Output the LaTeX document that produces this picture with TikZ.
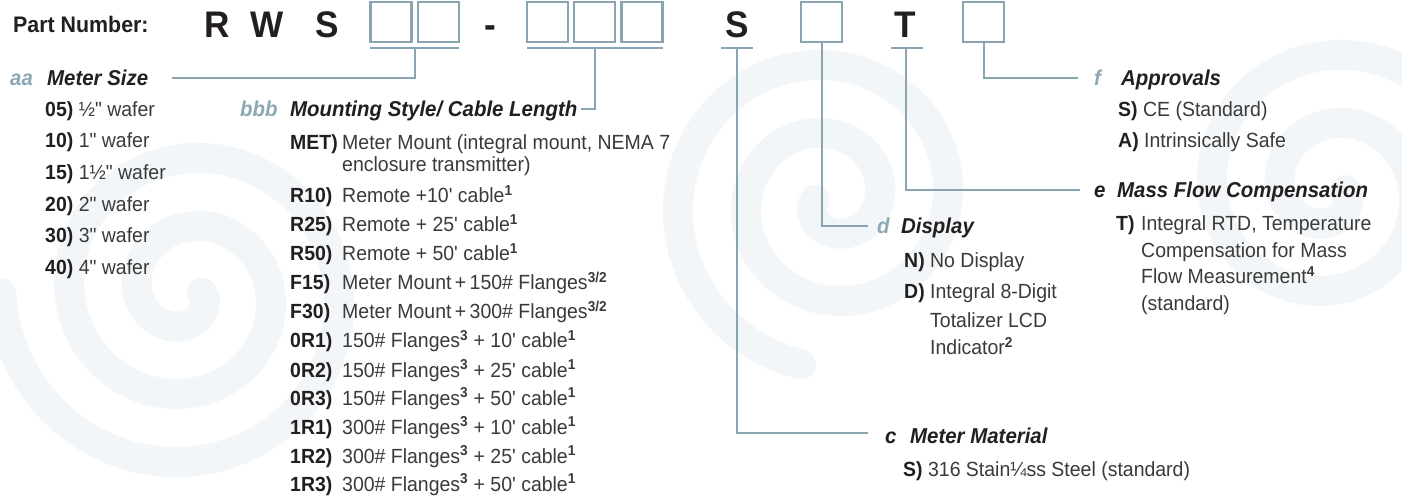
\documentclass[tikz,border=0pt]{standalone}
\usepackage{fontspec}
\setmainfont{Liberation Sans}[Ligatures=TeXOff, FakeStretch=0.95]
\definecolor{lineblue}{HTML}{8AA5B2}
\definecolor{codeblue}{HTML}{8DA8B5}
\definecolor{ink}{HTML}{231F20}
\definecolor{bodytext}{HTML}{3A3A3A}
\definecolor{swirlc}{HTML}{F3F6F8}
\newcommand{\cd}[1]{\textcolor{ink}{\bfseries #1}}
\newcommand{\supr}[1]{\textsuperscript{\bfseries #1}}
\tikzset{
  pbox/.style={draw=lineblue, line width=2.4pt, minimum width=41pt, minimum height=40pt, inner sep=0pt},
  bigletter/.style={font=\fontsize{37}{40}\selectfont\bfseries, text=ink, anchor=base, inner sep=0pt},
  conn/.style={draw=lineblue, line width=2pt},
  tag/.style={font=\fontsize{21.5}{26}\selectfont\bfseries\itshape, text=codeblue, anchor=base west, inner sep=0pt},
  tagdark/.style={tag, text=ink},
  head/.style={font=\fontsize{21.5}{26}\selectfont\bfseries\itshape, text=ink, anchor=base west, inner sep=0pt},
  item/.style={font=\fontsize{20.5}{24}\selectfont, text=bodytext, anchor=base west, inner sep=0pt},
  code/.style={font=\fontsize{20.5}{24}\selectfont\bfseries, text=ink, anchor=base west, inner sep=0pt},
  swirl/.style={draw=swirlc, line width=30pt, line cap=round},
}
\begin{document}
\begin{tikzpicture}[x=1pt, y=-1pt]
\fill[white] (0,0) rectangle (1402,502);
\useasboundingbox (0,0) rectangle (1402,502);
% faint background swirls
\begin{scope}
\clip (0,0) rectangle (1402,502);
\draw[swirl] plot[domain=0:900, samples=180, variable=\t] ({187+(15+0.19*\t)*cos(\t)}, {293+(15+0.19*\t)*sin(\t)});
\draw[swirl] plot[domain=0:800, samples=160, variable=\t] ({830-(15+0.19*\t)*cos(\t)}, {200+(15+0.19*\t)*sin(\t)});
\draw[swirl] plot[domain=0:720, samples=150, variable=\t] ({1330+(15+0.19*\t)*cos(\t)}, {190+(15+0.19*\t)*sin(\t)});
\end{scope}

% part number line
\node[font=\fontsize{22.5}{26}\selectfont\bfseries, text=ink, anchor=base west, inner sep=0pt] (pn) at (13,33) {Part Number:};
\node[bigletter] (lR) at (217,38) {R};
\node[bigletter] (lW) at (267,38) {W};
\node[bigletter] (lS) at (327,38) {S};
\node[pbox] (b1) at (391,22) {};
\node[pbox] (b2) at (438.5,22) {};
\node[bigletter] (dash) at (490,38) {-};
\node[pbox] (b3) at (547.5,22) {};
\node[pbox] (b4) at (594.5,22) {};
\node[pbox] (b5) at (642,22) {};
\node[bigletter] (lS2) at (737,38) {S};
\node[pbox] (b6) at (821.5,22) {};
\node[bigletter] (lT) at (905,38) {T};
\node[pbox] (b7) at (983.5,22) {};

% underlines
\coordinate (u1l) at (370,48); \coordinate (u1r) at (459,48); \coordinate (u1m) at (414.5,48);
\coordinate (u2l) at (527,48); \coordinate (u2r) at (663,48); \coordinate (u2m) at (595,48);
\coordinate (u3l) at (721,48); \coordinate (u3r) at (753,48); \coordinate (u3m) at (737,48);
\coordinate (u4l) at (891,48); \coordinate (u4r) at (923,48); \coordinate (u4m) at (906,48);
\draw[conn] (u1l) -- (u1r);
\draw[conn] (u2l) -- (u2r);
\draw[conn] (u3l) -- (u3r);
\draw[conn] (u4l) -- (u4r);

% connector ends
\coordinate (aaend) at (172,78);
\coordinate (bbbend) at (581,109);
\coordinate (cend) at (868,433);
\coordinate (dend) at (868,226);
\coordinate (eend) at (1080,190);
\coordinate (fend) at (1078,78);
\draw[conn] (u1m) |- (aaend);
\draw[conn] (u2m) |- (bbbend);
\draw[conn] (u3m) |- (cend);
\draw[conn] (b6.south) |- (dend);
\draw[conn] (u4m) |- (eend);
\draw[conn] (b7.south) |- (fend);

% aa Meter Size
\node[tag] (aa) at (10,86) {aa};
\node[head] (aah) at (47,86) {Meter Size};
\node[item] (a05) at (45,117) {\cd{05)} ½" wafer};
\node[item] (a10) at (45,148) {\cd{10)} 1" wafer};
\node[item] (a15) at (45,180) {\cd{15)} 1½" wafer};
\node[item] (a20) at (45,212) {\cd{20)} 2" wafer};
\node[item] (a30) at (45,243) {\cd{30)} 3" wafer};
\node[item] (a40) at (45,275) {\cd{40)} 4" wafer};

% bbb Mounting Style
\node[tag] (bbb) at (240,117) {bbb};
\node[head] (bbbh) at (290,117) {Mounting Style/ Cable Length};
\node[code] (cMET) at (290,150) {MET)};
\node[item] (vMET) at (342,150) {Meter Mount (integral mount, NEMA 7};
\node[item] (vMET2) at (342,172) {enclosure transmitter)};
\node[code] (cR10) at (290,203) {R10)};
\node[item] (vR10) at (342,203) {Remote +10' cable\supr{1}};
\node[code] (cR25) at (290,232) {R25)};
\node[item] (vR25) at (342,232) {Remote + 25' cable\supr{1}};
\node[code] (cR50) at (290,261) {R50)};
\node[item] (vR50) at (342,261) {Remote + 50' cable\supr{1}};
\node[code] (cF15) at (290,290) {F15)};
\node[item] (vF15) at (342,290) {Meter Mount\,+\,150\# Flanges\supr{3/2}};
\node[code] (cF30) at (290,319) {F30)};
\node[item] (vF30) at (342,319) {Meter Mount\,+\,300\# Flanges\supr{3/2}};
\node[code] (c0R1) at (290,348) {0R1)};
\node[item] (v0R1) at (342,348) {150\# Flanges\supr{3} + 10' cable\supr{1}};
\node[code] (c0R2) at (290,377) {0R2)};
\node[item] (v0R2) at (342,377) {150\# Flanges\supr{3} + 25' cable\supr{1}};
\node[code] (c0R3) at (290,405) {0R3)};
\node[item] (v0R3) at (342,405) {150\# Flanges\supr{3} + 50' cable\supr{1}};
\node[code] (c1R1) at (290,434) {1R1)};
\node[item] (v1R1) at (342,434) {300\# Flanges\supr{3} + 10' cable\supr{1}};
\node[code] (c1R2) at (290,463) {1R2)};
\node[item] (v1R2) at (342,463) {300\# Flanges\supr{3} + 25' cable\supr{1}};
\node[code] (c1R3) at (290,491) {1R3)};
\node[item] (v1R3) at (342,491) {300\# Flanges\supr{3} + 50' cable\supr{1}};

% f Approvals
\node[tag] (ff) at (1094,86) {f};
\node[head] (ffh) at (1121,86) {Approvals};
\node[item] (fS) at (1118,117) {\cd{S)} CE (Standard)};
\node[item] (fA) at (1118,148) {\cd{A)} Intrinsically Safe};

% e Mass Flow Compensation
\node[tagdark] (ee) at (1094,198) {e};
\node[head] (eeh) at (1117,198) {Mass Flow Compensation};
\node[code] (eT) at (1116,231) {T)};
\node[item] (eT1) at (1141,231) {Integral RTD, Temperature};
\node[item] (eT2) at (1141,258) {Compensation for Mass};
\node[item] (eT3) at (1141,284) {Flow Measurement\supr{4}};
\node[item] (eT4) at (1141,311) {(standard)};

% d Display
\node[tag] (dd) at (877,234) {d};
\node[head] (ddh) at (901,234) {Display};
\node[item] (dN) at (904,268) {\cd{N)} No Display};
\node[code] (dD) at (904,299) {D)};
\node[item] (dD1) at (930,299) {Integral 8-Digit};
\node[item] (dD2) at (930,328) {Totalizer LCD};
\node[item] (dD3) at (930,355) {Indicator\supr{2}};

% c Meter Material
\node[tagdark] (cc) at (885,443) {c};
\node[head] (cch) at (910,443) {Meter Material};
\node[item] (cS) at (903,476) {\cd{S)} 316 Stain¼ss Steel (standard)};
\end{tikzpicture}
\end{document}
